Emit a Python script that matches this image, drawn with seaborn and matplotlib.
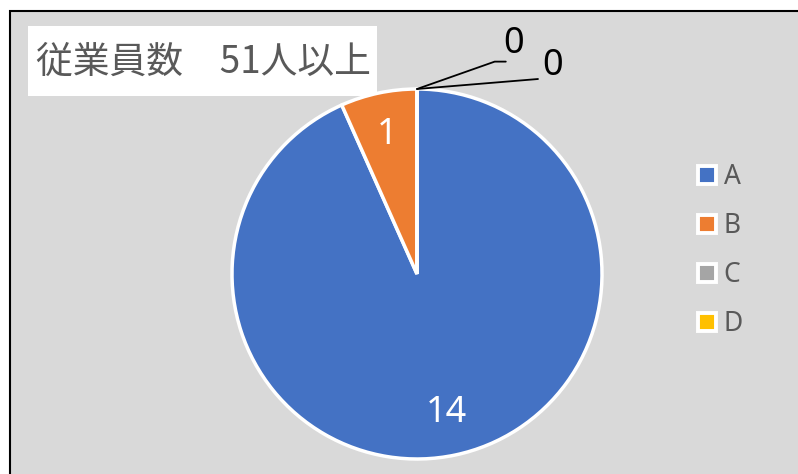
import matplotlib
matplotlib.use("Agg")
import matplotlib.pyplot as plt
from matplotlib.patches import Rectangle, Patch
import seaborn as sns
import numpy as np

categories = ["A", "B", "C", "D"]
values = [14, 1, 0, 0]
colors_hex = ["#4472C4", "#ED7D31", "#A5A5A5", "#FFC000"]
title = "従業員数　51人以上"

sns.set_style("white")
plt.rcParams['font.family'] = ['Noto Sans CJK JP', 'DejaVu Sans']
palette = sns.color_palette(colors_hex)

W, H = 798, 474
fig = plt.figure(figsize=(W / 100, H / 100), dpi=100)
fig.patch.set_facecolor("white")

# chart area background with border
fig.patches.append(Rectangle((9.5 / W, -0.05), 1.1, (H - 11) / H + 0.05,
                             transform=fig.transFigure, facecolor="#D9D9D9",
                             edgecolor="black", lw=1.5, zorder=-2))

# pie axes
cx, cy, R = 417, 274, 185
ax = fig.add_axes([(cx - R) / W, (H - cy - R) / H, 2 * R / W, 2 * R / H])
ax.set_zorder(1)
ax.set_facecolor("none")
wedges, _ = ax.pie(values, colors=palette, startangle=90, counterclock=False,
                   radius=1, wedgeprops=dict(edgecolor="white", linewidth=2.5))
ax.set_xlim(-1, 1)
ax.set_ylim(-1, 1)
ax.set_aspect("equal")
ax.axis("off")

lab_font = ["Noto Sans", "DejaVu Sans"]
# labels for nonzero slices
for w, v in zip(wedges, values):
    if v > 0:
        ang = np.deg2rad((w.theta1 + w.theta2) / 2)
        ax.text(0.77 * np.cos(ang), 0.77 * np.sin(ang), str(v), color="white",
                fontsize=26, ha="center", va="center", family=lab_font)

# labels for zero slices with leader lines
zero_idx = [i for i, v in enumerate(values) if v == 0]
leader = [([0.0, 0.42, 0.48], [1.0, 1.148, 1.148], (0.524, 1.245)),
          ([0.0, 0.654], [1.0, 1.054], (0.735, 1.125))]
for k, i in enumerate(zero_idx):
    xs, ys, (tx, ty) = leader[k]
    ax.plot(xs, ys, color="black", lw=1.3, clip_on=False)
    ax.text(tx, ty, str(values[i]), color="black", fontsize=26, ha="center",
            va="center", family=lab_font, clip_on=False)

# title box
fig.patches.append(Rectangle((28 / W, 1 - 96 / H), (377 - 28) / W, 70 / H,
                             transform=fig.transFigure, facecolor="white",
                             edgecolor="none", zorder=-1))
fig.text(36 / W, 1 - 62 / H, title, fontsize=26.5, color="#595959",
         ha="left", va="center", zorder=2)

# legend
handles = [Patch(facecolor=c, edgecolor="white", linewidth=2.8) for c in palette]
leg = fig.legend(handles, categories, loc="upper left",
                 bbox_to_anchor=(698 / W, 1 - 163 / H), frameon=False,
                 fontsize=19, handlelength=0.68, handleheight=0.68,
                 handletextpad=0.3, labelspacing=0.8, borderpad=0,
                 borderaxespad=0)
for t in leg.get_texts():
    t.set_color("#595959")
    t.set_family(lab_font)

fig.savefig("out.png", dpi=100)
